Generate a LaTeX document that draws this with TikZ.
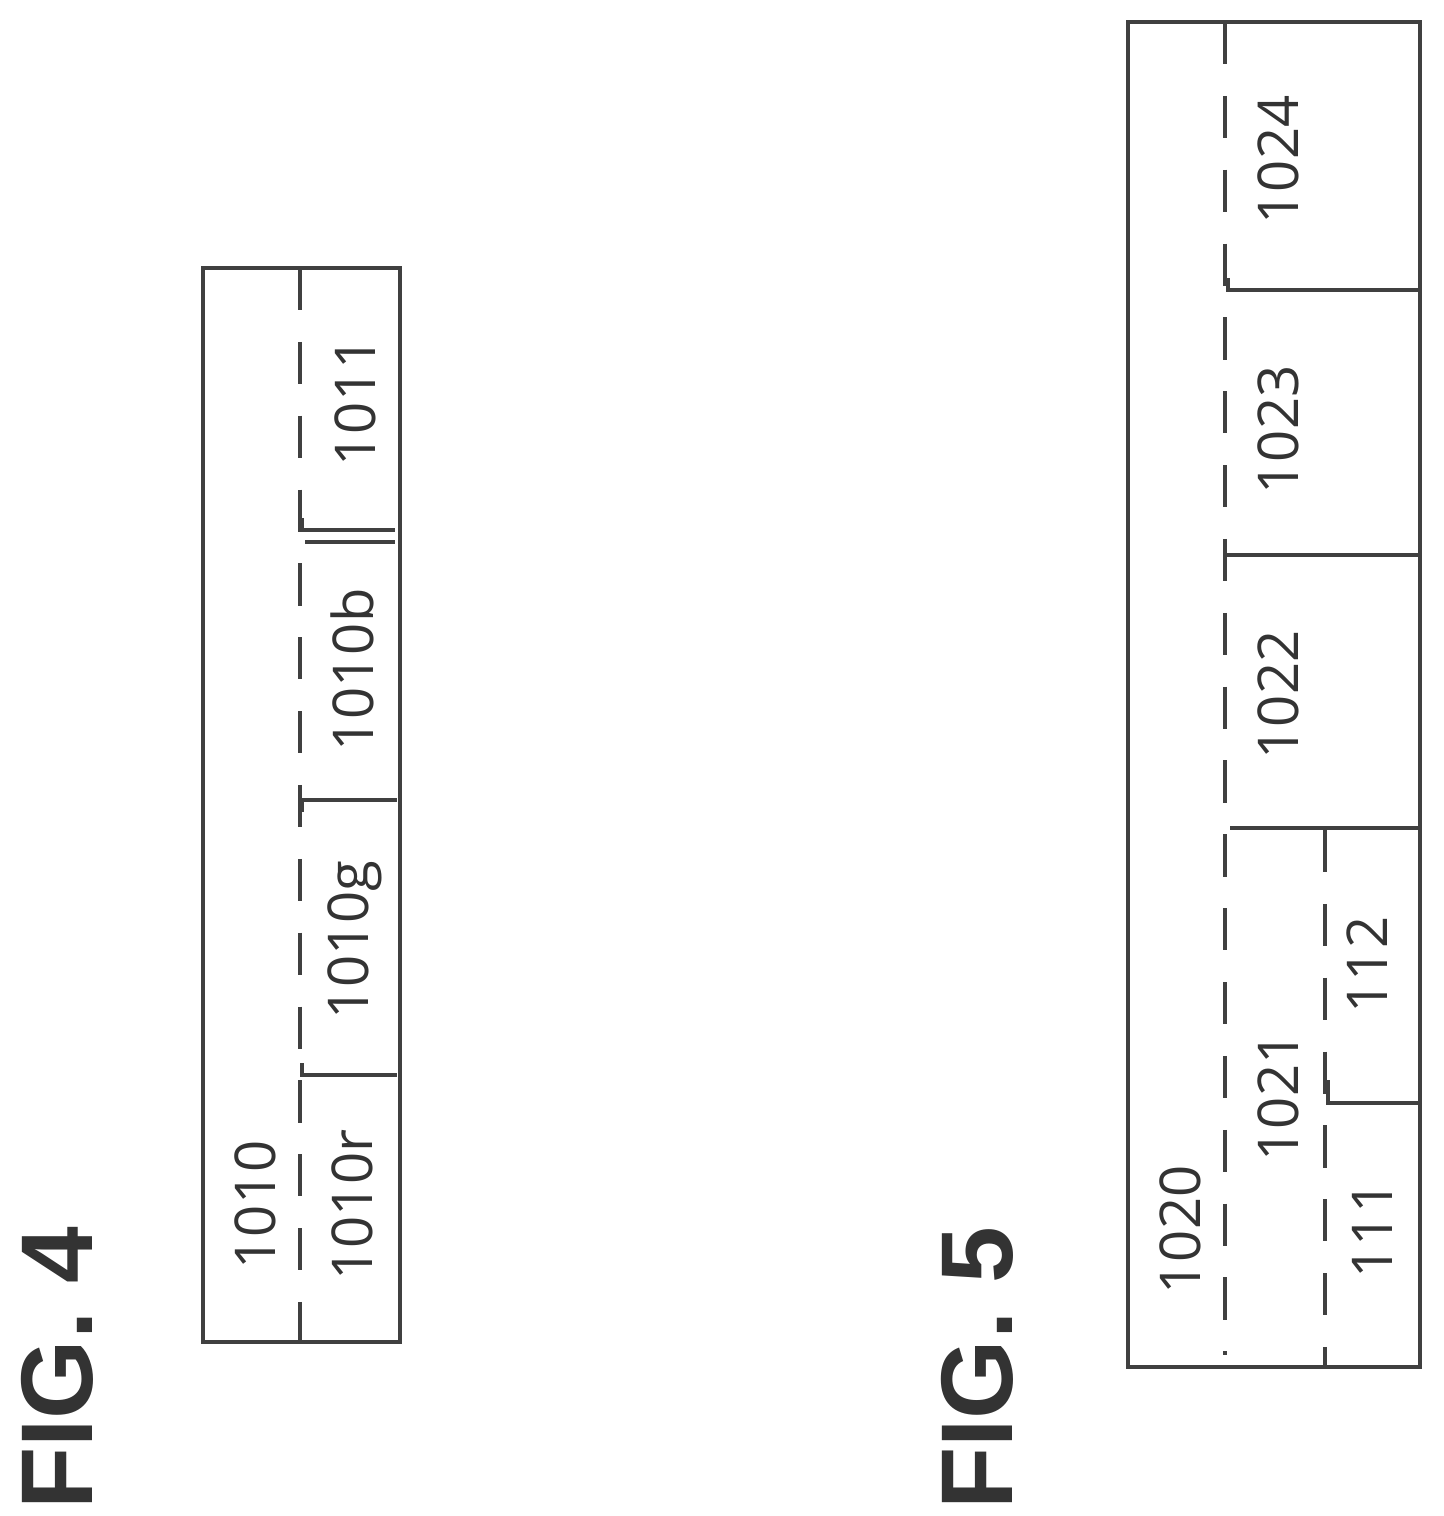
\documentclass[tikz,border=0pt]{standalone}
\usepackage{fontspec}
\setmainfont{Open Sans}
\newfontfamily\figfont{Liberation Sans}
\begin{document}
\begin{tikzpicture}[x=0.01cm,y=-0.01cm,
  ln/.style={line width=1.3pt,draw=black!75},
  dsh/.style={ln,dash pattern=on 12pt off 9pt},
  lab/.style={rotate=90,font=\fontsize{16}{18}\selectfont,text=black!80,inner sep=0pt},
  figl/.style={rotate=90,font=\figfont\bfseries\fontsize{29}{32}\selectfont,text=black!80,inner sep=0pt}]
\useasboundingbox (0,0) rectangle (1443,1516);
% FIG 4
\draw[ln] (203,268) rectangle (400,1342);
\draw[dsh] (300,268) -- (300,1342);
\draw[ln] (302,518) -- (302,530) -- (395,530);
\draw[ln] (305,542) -- (395,542);
\draw[ln] (302,812) -- (302,800) -- (397,800);
\draw[ln] (302,1063) -- (302,1075) -- (397,1075);
\node[lab] (t1010) at (255,1205) {1010};
\node[lab] (t1010r) at (352,1205) {1010r};
\node[lab] (t1010g) at (355,940) {1010g};
\node[lab] (t1010b) at (352,670) {1010b};
\node[lab] (t1011) at (355,402) {1011};
\node[figl] (f4) at (57,1368) {FIG. 4};
% FIG 5
\draw[ln] (1128,22) rectangle (1420,1367);
\draw[dsh] (1225,22) -- (1225,1355);
\draw[dsh] (1325,830) -- (1325,1367);
\draw[ln] (1228,278) -- (1228,290) -- (1418,290);
\draw[ln] (1225,555) -- (1418,555);
\draw[ln] (1230,828) -- (1418,828);
\draw[ln] (1328,1080) -- (1328,1103) -- (1418,1103);
\node[lab] (t1024) at (1278,160) {1024};
\node[lab] (t1023) at (1278,430) {1023};
\node[lab] (t1022) at (1278,695) {1022};
\node[lab] (t1021) at (1278,1097) {1021};
\node[lab] (t1020) at (1180,1230) {1020};
\node[lab] (t112) at (1367,965) {112};
\node[lab] (t111) at (1372,1230) {111};
\node[figl] (f5) at (977,1368) {FIG. 5};
\end{tikzpicture}
\end{document}
